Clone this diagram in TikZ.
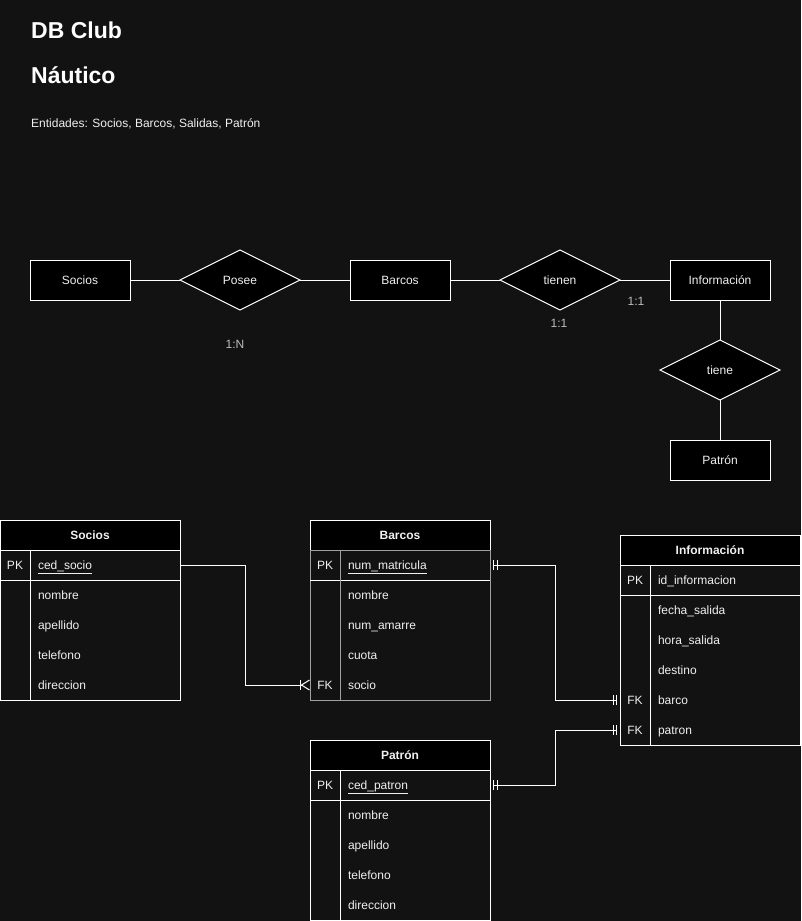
\documentclass[tikz,border=0pt]{standalone}
\usepackage{fontspec}
\setmainfont{Liberation Sans}
\usepackage{tikz}
\usetikzlibrary{arrows.meta,positioning,shapes.geometric}
\definecolor{fondo}{HTML}{121212}
\definecolor{texto}{HTML}{F0F0F0}
\definecolor{gris}{HTML}{BDBDBD}
\definecolor{borde}{HTML}{A0A0A0}
\tikzset{
    dos/.tip={Bar[width=10pt,sep=2.5pt]Bar[width=10pt]},
    muchos/.tip={Bar[width=10pt,sep=0pt]Straight Barb[reversed,length=8pt,width=10pt,line width=1pt]},
    ent/.style={
           rectangle,
           draw=white, fill=black, line width=1pt,
           minimum width=100pt, minimum height=40pt,
           outer sep=0pt,
           text=texto, text height=10pt, text depth=2pt,
           font=\fontsize{12}{14}\selectfont},
    rel/.style={
           diamond,
           draw=white, fill=black, line width=1pt,
           minimum width=120pt, minimum height=60pt,
           inner sep=0pt, outer sep=0pt,
           text=texto, text height=10pt, text depth=2pt,
           font=\fontsize{12}{14}\selectfont},
    linea/.style={
           draw=white,
           line width=1pt},
    card/.style={
           text=gris,
           font=\fontsize{12}{14}\selectfont},
    cabeza/.style={
           rectangle,
           draw=white, fill=black, line width=1pt,
           minimum width=180pt, minimum height=30pt,
           outer sep=0pt,
           text=texto, text height=10pt, text depth=2pt,
           font=\bfseries\fontsize{12}{14}\selectfont},
    clave/.style={
           rectangle,
           minimum width=30pt, minimum height=30pt,
           inner sep=0pt, outer sep=0pt,
           text=texto, text height=10pt, text depth=2pt,
           font=\fontsize{12}{14}\selectfont},
    campo/.style={
           rectangle,
           text width=134pt, minimum height=30pt,
           inner xsep=8pt, inner ysep=0pt, outer sep=0pt,
           align=left,
           text=texto, text height=10pt, text depth=2pt,
           font=\fontsize{12}{14}\selectfont}
}

\begin{document}
\begin{tikzpicture}[x=1pt, y=-1pt]
        \fill[fondo] (0,0) rectangle (801,921);
        \useasboundingbox (0,0) rectangle (801,921);

        % titulo
        \node[anchor=west, inner sep=0pt, text=white, font=\bfseries\fontsize{23}{28}\selectfont] (tit1) at (31,30) {DB Club};
        \node[anchor=west, inner sep=0pt, text=white, font=\bfseries\fontsize{23}{28}\selectfont] (tit2) at (31,75) {Náutico};
        \node[anchor=west, inner sep=0pt, text=texto, font=\fontsize{12}{14}\selectfont] (entid) at (31,124) {Entidades: Socios, Barcos, Salidas, Patrón};

        % modelo entidad relacion
        \node[ent] (socios) at (80,280) {Socios};
        \node[rel, right=50pt of socios] (posee) {Posee};
        \node[ent, right=50pt of posee] (barcos) {Barcos};
        \node[rel, right=50pt of barcos] (tienen) {tienen};
        \node[ent, right=50pt of tienen] (info) {Información};
        \node[rel, below=40pt of info] (tiene) {tiene};
        \node[ent, below=40pt of tiene] (patron) {Patrón};

        \draw[linea] (socios) -- (posee);
        \draw[linea] (posee) -- (barcos);
        \draw[linea] (barcos) -- (tienen);
        \draw[linea] (tienen) -- (info);
        \draw[linea] (info) -- (tiene);
        \draw[linea] (tiene) -- (patron);

        \node[card] (c1) at (235,344) {1:N};
        \node[card] (c2) at (559,323) {1:1};
        \node[card] (c3) at (636,301) {1:1};

        % tabla socios
        \node[cabeza] (tsocios) at (90,535) {Socios};
        \node[clave, below right=0pt of tsocios.south west] (spk) {PK};
        \node[campo, right=0pt of spk] (sced) {\underline{ced\_socio}};
        \node[campo, below=0pt of sced] (snom) {nombre};
        \node[campo, below=0pt of snom] (sape) {apellido};
        \node[campo, below=0pt of sape] (stel) {telefono};
        \node[campo, below=0pt of stel] (sdir) {direccion};
        \draw[linea] (tsocios.south west) rectangle (sdir.south east);
        \draw[linea] (spk.south west) -- (sced.south east);
        \draw[linea] (spk.north east) -- (spk.north east |- sdir.south);

        % tabla barcos
        \node[cabeza] (tbarcos) at (400,535) {Barcos};
        \node[clave, below right=0pt of tbarcos.south west] (bpk) {PK};
        \node[campo, right=0pt of bpk] (bmat) {\underline{num\_matricula}};
        \node[campo, below=0pt of bmat] (bnom) {nombre};
        \node[campo, below=0pt of bnom] (bama) {num\_amarre};
        \node[campo, below=0pt of bama] (bcuo) {cuota};
        \node[campo, below=0pt of bcuo] (bsoc) {socio};
        \node[clave, left=0pt of bsoc] (bfk) {FK};
        \draw[linea, draw=borde] (tbarcos.south west) rectangle (bsoc.south east);
        \draw[linea] (bpk.south west) -- (bmat.south east);
        \draw[linea, draw=borde] (bpk.north east) -- (bfk.south east);

        % tabla informacion
        \node[cabeza] (tinfo) at (710,550) {Información};
        \node[clave, below right=0pt of tinfo.south west] (ipk) {PK};
        \node[campo, right=0pt of ipk] (iid) {id\_informacion};
        \node[campo, below=0pt of iid] (ifec) {fecha\_salida};
        \node[campo, below=0pt of ifec] (ihor) {hora\_salida};
        \node[campo, below=0pt of ihor] (ides) {destino};
        \node[campo, below=0pt of ides] (ibar) {barco};
        \node[campo, below=0pt of ibar] (ipat) {patron};
        \node[clave, left=0pt of ibar] (ifk1) {FK};
        \node[clave, left=0pt of ipat] (ifk2) {FK};
        \draw[linea] (tinfo.south west) rectangle (ipat.south east);
        \draw[linea] (ipk.south west) -- (iid.south east);
        \draw[linea] (ipk.north east) -- (ifk2.south east);

        % tabla patron
        \node[cabeza] (tpatron) at (400,755) {Patrón};
        \node[clave, below right=0pt of tpatron.south west] (ppk) {PK};
        \node[campo, right=0pt of ppk] (pced) {\underline{ced\_patron}};
        \node[campo, below=0pt of pced] (pnom) {nombre};
        \node[campo, below=0pt of pnom] (pape) {apellido};
        \node[campo, below=0pt of pape] (ptel) {telefono};
        \node[campo, below=0pt of ptel] (pdir) {direccion};
        \draw[linea] (tpatron.south west) rectangle (pdir.south east);
        \draw[linea] (ppk.south west) -- (pced.south east);
        \draw[linea] (ppk.north east) -- (ppk.north east |- pdir.south);

        % relaciones entre tablas
        \draw[linea, -muchos] (sced.east) -- ++(65,0) |- (bfk.west);
        \draw[linea, dos-dos] ([xshift=3pt]bmat.east) -- ++(62,0) |- ([xshift=-3pt]ifk1.west);
        \draw[linea, dos-dos] ([xshift=3pt]pced.east) -- ++(62,0) |- ([xshift=-3pt]ifk2.west);
    \end{tikzpicture}
\end{document}
